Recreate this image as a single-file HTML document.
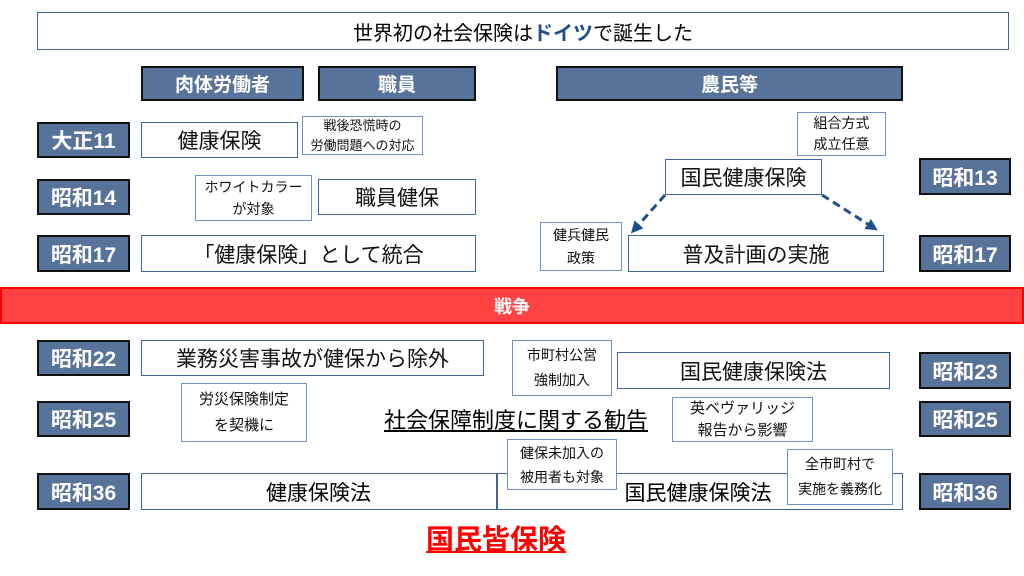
<!DOCTYPE html>
<html><head><meta charset="utf-8"><style>
body{margin:0;width:1024px;height:576px;background:#fff;position:relative;overflow:hidden;font-family:"Liberation Sans","Noto Sans CJK JP",sans-serif;}
div{position:absolute;box-sizing:border-box;display:flex;align-items:center;justify-content:center;text-align:center;}
.h{background:#58739A;border:2px solid #111;color:#fff;font-weight:bold;font-size:19px;}
.y{background:#58739A;border:2px solid #111;color:#fff;font-weight:bold;font-size:21px;}
.b{background:#fff;border:1.5px solid #41659A;color:#111;font-size:21px;}
.c{background:#fff;border:1px solid #6F93C6;color:#111;font-size:13px;line-height:20px;}
</style></head><body>
<div style="left:37px;top:12px;width:972px;height:38px;border:1.5px solid #41659A;font-size:20px;">世界初の社会保険は<b style="color:#1F4E8C">ドイツ</b>で誕生した</div>
<div class="h" style="left:141px;top:66px;width:163px;height:35px;">肉体労働者</div>
<div class="h" style="left:318px;top:66px;width:158px;height:35px;">職員</div>
<div class="h" style="left:556px;top:66px;width:347px;height:35px;">農民等</div>

<div class="y" style="left:37px;top:122px;width:93px;height:36px;">大正11</div>
<div class="y" style="left:37px;top:179px;width:93px;height:36px;">昭和14</div>
<div class="y" style="left:37px;top:235px;width:93px;height:37px;">昭和17</div>
<div class="y" style="left:37px;top:340px;width:93px;height:36px;">昭和22</div>
<div class="y" style="left:37px;top:401px;width:93px;height:36px;">昭和25</div>
<div class="y" style="left:37px;top:473px;width:93px;height:37px;">昭和36</div>
<div class="y" style="left:919px;top:158px;width:92px;height:37px;">昭和13</div>
<div class="y" style="left:919px;top:235px;width:92px;height:37px;">昭和17</div>
<div class="y" style="left:919px;top:352px;width:92px;height:37px;">昭和23</div>
<div class="y" style="left:919px;top:401px;width:92px;height:36px;">昭和25</div>
<div class="y" style="left:919px;top:473px;width:92px;height:37px;">昭和36</div>

<div class="b" style="left:141px;top:122px;width:157px;height:36px;">健康保険</div>
<div class="c" style="left:302px;top:116px;width:121px;height:39px;">戦後恐慌時の<br>労働問題への対応</div>
<div class="b" style="left:318px;top:179px;width:158px;height:36px;">職員健保</div>
<div class="c" style="left:195px;top:175px;width:117px;height:46px;font-size:14px;line-height:22px;">ホワイトカラー<br>が対象</div>
<div class="b" style="left:141px;top:235px;width:335px;height:37px;">「健康保険」として統合</div>
<div class="b" style="left:665px;top:159px;width:157px;height:36px;">国民健康保険</div>
<div class="c" style="left:797px;top:112px;width:89px;height:44px;font-size:14px;line-height:21px;">組合方式<br>成立任意</div>
<div class="b" style="left:628px;top:235px;width:256px;height:37px;">普及計画の実施</div>
<div class="c" style="left:540px;top:222px;width:82px;height:49px;font-size:14px;line-height:23px;">健兵健民<br>政策</div>

<div style="left:0;top:287px;width:1024px;height:37px;background:#FF4242;border:2px solid #FF0000;color:#fff;font-weight:bold;font-size:18px;">戦争</div>

<div class="b" style="left:141px;top:340px;width:343px;height:36px;">業務災害事故が健保から除外</div>
<div class="c" style="left:181px;top:383px;width:126px;height:59px;font-size:15px;line-height:26px;">労災保険制定<br>を契機に</div>
<div class="b" style="left:617px;top:352px;width:273px;height:37px;">国民健康保険法</div>
<div class="c" style="left:512px;top:340px;width:100px;height:56px;font-size:14px;line-height:25px;">市町村公営<br>強制加入</div>
<div style="left:366px;top:402px;width:300px;height:34px;font-size:22px;"><span style="text-decoration:underline">社会保障制度に関する勧告</span></div>
<div class="c" style="left:672px;top:397px;width:141px;height:45px;font-size:15px;line-height:22px;">英ベヴァリッジ<br>報告から影響</div>
<div class="b" style="left:141px;top:473px;width:762px;height:37px;"></div>
<div style="left:496px;top:473px;width:1.5px;height:37px;background:#41659A;"></div>
<div style="left:141px;top:473px;width:355px;height:37px;font-size:21px;">健康保険法</div>
<div style="left:598px;top:473px;width:200px;height:37px;font-size:21px;">国民健康保険法</div>
<div class="c" style="left:507px;top:439px;width:110px;height:51px;font-size:14px;line-height:24px;">健保未加入の<br>被用者も対象</div>
<div class="c" style="left:787px;top:449px;width:106px;height:56px;font-size:14px;line-height:25px;">全市町村で<br>実施を義務化</div>
<div style="left:380px;top:518px;width:232px;height:40px;font-size:28px;font-weight:bold;color:#FF0000;"><span style="text-decoration:underline">国民皆保険</span></div>

<svg style="position:absolute;left:0;top:0" width="1024" height="576">
<defs><marker id="a" markerWidth="4" markerHeight="4" refX="2.5" refY="2" orient="auto"><path d="M0,0L4,2L0,4z" fill="#1F4E8C"/></marker></defs>
<line x1="665" y1="195" x2="634" y2="230" stroke="#1F4E8C" stroke-width="3" stroke-dasharray="8,5" marker-end="url(#a)"/>
<line x1="822" y1="195" x2="874" y2="228" stroke="#1F4E8C" stroke-width="3" stroke-dasharray="8,5" marker-end="url(#a)"/>
</svg>
</body></html>
